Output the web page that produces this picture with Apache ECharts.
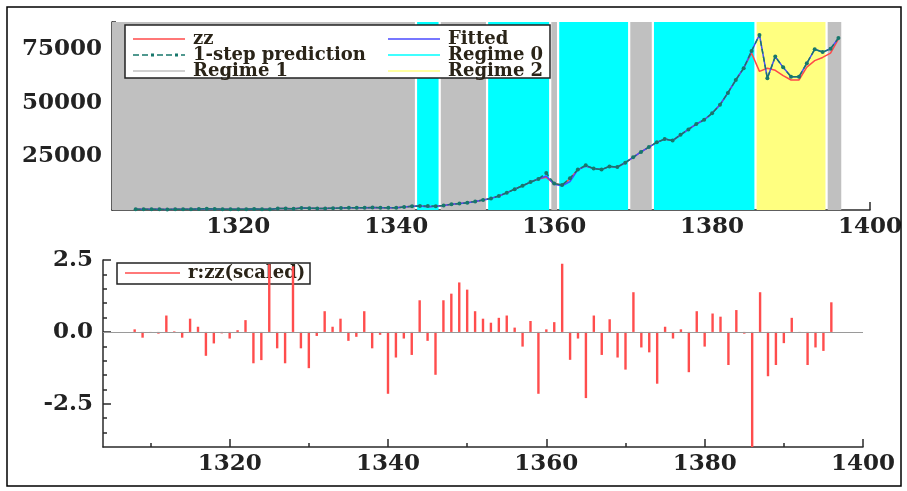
<!DOCTYPE html>
<html><head><meta charset="utf-8">
<script src="https://cdn.jsdelivr.net/npm/echarts@6/dist/echarts.min.js"></script>
<style>html,body{margin:0;padding:0;background:#fff}#c{width:907px;height:491px}</style>
</head><body><div id="c"></div>
<script>
// ---- data ----
const years = [1307,1308,1309,1310,1311,1312,1313,1314,1315,1316,1317,1318,1319,1320,1321,1322,1323,1324,1325,1326,
1327,1328,1329,1330,1331,1332,1333,1334,1335,1336,1337,1338,1339,1340,1341,1342,1343,1344,1345,1346,
1347,1348,1349,1350,1351,1352,1353,1354,1355,1356,1357,1358,1359,1360,1361,1362,1363,1364,1365,1366,
1367,1368,1369,1370,1371,1372,1373,1374,1375,1376,1377,1378,1379,1380,1381,1382,1383,1384,1385,1386,
1387,1388,1389,1390,1391,1392,1393,1394,1395,1396];
const zz = [300,350,300,300,280,400,400,350,500,600,
450,400,400,380,400,480,380,300,700,650,
550,900,850,750,750,850,900,1000,1000,1000,
1150,1100,1100,1000,1400,1700,1900,1500,1800,2100,
2700,3000,3400,4000,4700,5400,6500,8000,9700,11300,
13000,14400,15200,12300,11600,14500,18800,20500,19300,18800,
20300,20000,22000,24500,27000,29300,31500,33000,32300,35000,
37500,40000,42000,45000,49000,54500,60500,66000,73000,64500,
66000,65000,62500,60500,60500,66500,69500,71000,73000,79500];
const fitted = [300,350,300,300,280,400,400,350,500,600,
450,400,400,380,400,480,380,300,700,650,
550,900,850,750,750,850,900,1000,1000,1000,
1150,1100,1100,1000,1400,1700,1900,1500,1800,2100,
2700,3000,3400,4000,4700,5400,6500,8000,9700,11300,
13000,14400,15800,12000,11300,13200,18800,20500,19300,18800,
20300,20000,22000,24500,27000,29300,31500,33000,32300,35000,
37500,40000,42000,45000,49000,54500,60500,66000,74000,81500,
61300,71400,66400,62000,62000,68300,74800,73500,75000,80000];
const prediction = [300,350,300,300,280,400,400,350,500,600,
450,400,400,380,400,480,380,300,700,650,
550,900,850,750,750,850,900,1000,1000,1000,
1150,1100,1100,1000,1400,1700,1900,1900,1800,2100,
2700,3000,3400,4000,4700,5400,6500,8000,9700,11300,
13000,14400,17200,12300,11600,14800,18800,20800,19300,18800,
20300,20000,22000,24500,27000,29300,31500,33000,32300,35000,
37500,40000,42000,45000,49000,54500,60500,66000,74000,81500,
61300,71400,66400,62000,62000,68300,74800,73500,75000,80000];
const residYears = [1308,1309,1310,1311,1312,1313,1314,1315,1316,1317,
1318,1319,1320,1321,1322,1323,1324,1325,1326,1327,
1328,1329,1330,1331,1332,1333,1334,1335,1336,1337,
1338,1339,1340,1341,1342,1343,1344,1345,1346,1347,
1348,1349,1350,1351,1352,1353,1354,1355,1356,1357,
1358,1359,1360,1361,1362,1363,1364,1365,1366,1367,
1368,1369,1370,1371,1372,1373,1374,1375,1376,1377,
1378,1379,1380,1381,1382,1383,1384,1385,1386,1387,
1388,1389,1390,1391,1392,1393,1394,1395,1396];
const resid = [0.09,-0.2,-0.03,-0.06,0.57,0.02,-0.2,0.46,0.18,-0.83,
-0.4,-0.05,-0.23,0.06,0.41,-1.09,-0.98,2.35,-0.57,-1.09,
2.28,-0.57,-1.26,-0.14,0.72,0.18,0.46,-0.31,-0.17,0.72,
-0.57,-0.1,-2.15,-0.89,-0.23,-0.8,1.10,-0.31,-1.49,1.10,
1.33,1.72,1.47,0.72,0.46,0.32,0.49,0.57,0.15,-0.51,
0.38,-2.15,0.09,0.34,2.37,-0.97,-0.23,-2.3,0.57,-0.8,
0.44,-0.89,-1.31,1.38,-0.54,-0.71,-1.8,0.18,-0.23,0.09,
-1.4,0.72,-0.51,0.64,0.53,-1.15,0.76,-0.06,-4.0,1.38,
-1.54,-1.15,-0.39,0.49,-0.02,-1.15,-0.54,-0.66,1.03];
// regime blocks
const regimeStart = [1304,1342.5,1345.5,1351.5,1359.5,1360.5,1369.5,1372.5,1385.5,1394.5];
const regimeEnd   = [1342.5,1345.5,1351.5,1359.5,1360.5,1369.5,1372.5,1385.5,1394.5,1396.5];
const regimeId    = [1,0,1,0,1,0,1,0,2,1];
const regimeNames = ['Regime 0','Regime 1','Regime 2'];
const xLabels = [1320,1340,1360,1380,1400];
const xMinor = [1310,1330,1350,1370,1390];
const topYLabels = [25000,50000,75000];
const topYMinor = [12500,37500,62500,87500];
const botYLabels = [-2.5,0,2.5];
const botYMinor = [-3.5,-3,-2,-1.5,-1,-0.5,0.5,1,1.5,2];

// ---- styles ----
const regimeColors = ['#00ffff','#c0c0c0','#ffff80'];
const font = 'DejaVu Serif';
const axisCol = '#2a2a2a';
const lblStyle = {fontFamily: font, fontSize: 23, fontWeight: 'bold', color: '#222'};
const pair = (xs, ys) => xs.map((x, i) => [x, ys[i]]);
const gap = 0.14;
const solidIcon = 'path://M0,0.7h52v1.6h-52z';
const dashIcon = 'path://M0,0.7h6v1.6h-6z M9,0.7h6v1.6h-6z M18,0h3v3h-3z M24,0.7h6v1.6h-6z M33,0.7h6v1.6h-6z M42,0h3v3h-3z M48,0.7h4v1.6h-4z';

function regimeAreas(id) {
  const out = [];
  regimeStart.forEach((s, i) => {
    if (regimeId[i] !== id) return;
    const a = i === 0 ? s : s + gap;
    const b = regimeEnd[i] - gap;
    out.push([{xAxis: a}, {xAxis: b}]);
  });
  return out;
}

function xAxes(grid) {
  return [
    {type: 'value', gridIndex: grid, min: 1304, max: 1400, position: 'bottom',
     axisLine: {onZero: false, lineStyle: {color: axisCol, width: 1.5}},
     axisTick: {inside: true, length: 8, customValues: xLabels, lineStyle: {color: axisCol, width: 1.5}},
     axisLabel: {customValues: xLabels, margin: 6, formatter: v => String(v), ...lblStyle},
     splitLine: {show: false}},
    {type: 'value', gridIndex: grid, min: 1304, max: 1400, position: 'bottom',
     axisLine: {show: false, onZero: false},
     axisTick: {inside: true, length: 4, customValues: xMinor, lineStyle: {color: axisCol, width: 1.5}},
     axisLabel: {show: false}, splitLine: {show: false}}
  ];
}

const chart = echarts.init(document.getElementById('c'));
const series = [];
regimeNames.forEach((nm, id) => {
  series.push({name: nm, type: 'line', xAxisIndex: 0, yAxisIndex: 0, data: [], symbol: 'none',
    color: regimeColors[id], lineStyle: {width: 2, color: regimeColors[id]}, z: 1,
    markArea: {silent: true, itemStyle: {color: regimeColors[id], opacity: 1}, data: regimeAreas(id)}});
});
series.push({name: 'zz', type: 'line', xAxisIndex: 0, yAxisIndex: 0, data: pair(years, zz), symbol: 'none',
  color: '#ff4a4a', lineStyle: {width: 1.5, color: '#ff4a4a'}, z: 3});
series.push({name: 'Fitted', type: 'line', xAxisIndex: 0, yAxisIndex: 0, data: pair(years, fitted), symbol: 'none',
  color: '#4a4aff', lineStyle: {width: 1.5, color: '#4a4aff'}, z: 4});
series.push({name: '1-step prediction', type: 'line', xAxisIndex: 0, yAxisIndex: 0, data: pair(years, prediction),
  symbol: 'circle', symbolSize: 4, showSymbol: true,
  color: '#17776b', itemStyle: {color: '#17776b'}, lineStyle: {width: 1.5, color: '#17776b', type: [5, 3]}, z: 5});
series.push({name: 'r:zz(scaled)', type: 'bar', xAxisIndex: 2, yAxisIndex: 2, data: pair(residYears, resid),
  barWidth: 2.4, color: '#ff4d4d', itemStyle: {color: '#ff4d4d'}, z: 3,
  markLine: {silent: true, symbol: 'none', label: {show: false}, lineStyle: {color: '#9a9a9a', width: 1.2, type: 'solid'},
    data: [{yAxis: 0}]}});

const legendText = {fontFamily: font, fontSize: 18, fontWeight: 'bold', color: '#2a2418', padding: [0, 0, 0, 3]};
const legItem = (name, icon) => ({name: name, icon: icon});
chart.setOption({
  animation: false,
  backgroundColor: '#fff',
  grid: [
    {left: 112, right: 37, top: 22, bottom: 281},
    {left: 103, right: 44, top: 260, bottom: 44}
  ],
  xAxis: [...xAxes(0), ...xAxes(1)],
  yAxis: [
    {type: 'value', gridIndex: 0, min: 0, max: 87500, position: 'left',
     axisLine: {show: true, lineStyle: {color: axisCol, width: 1.5}},
     axisTick: {show: true, inside: true, length: 8, customValues: topYLabels, lineStyle: {color: axisCol, width: 1.5}},
     axisLabel: {customValues: topYLabels, margin: 10, formatter: v => String(v), ...lblStyle}, splitLine: {show: false}},
    {type: 'value', gridIndex: 0, min: 0, max: 87500, position: 'left',
     axisLine: {show: false}, axisTick: {show: true, inside: true, length: 4, customValues: topYMinor, lineStyle: {color: axisCol, width: 1.5}},
     axisLabel: {show: false}, splitLine: {show: false}},
    {type: 'value', gridIndex: 1, min: -4, max: 2.5, position: 'left',
     axisLine: {show: true, lineStyle: {color: axisCol, width: 1.5}},
     axisTick: {show: true, inside: true, length: 8, customValues: botYLabels, lineStyle: {color: axisCol, width: 1.5}},
     axisLabel: {customValues: botYLabels, margin: 10, formatter: v => v.toFixed(1), ...lblStyle}, splitLine: {show: false}},
    {type: 'value', gridIndex: 1, min: -4, max: 2.5, position: 'left',
     axisLine: {show: false}, axisTick: {show: true, inside: true, length: 4, customValues: botYMinor, lineStyle: {color: axisCol, width: 1.5}},
     axisLabel: {show: false}, splitLine: {show: false}}
  ],
  legend: [
    {data: [legItem('zz', solidIcon), legItem('1-step prediction', dashIcon), legItem('Regime 1', solidIcon)],
     orient: 'vertical', left: 133, top: 30, padding: 0,
     itemWidth: 52, itemHeight: 3, itemGap: -2, textStyle: legendText, z: 20, selectedMode: false},
    {data: [legItem('Fitted', solidIcon), legItem('Regime 0', solidIcon), legItem('Regime 2', solidIcon)],
     orient: 'vertical', left: 388, top: 30, padding: 0,
     itemWidth: 52, itemHeight: 3, itemGap: -2, textStyle: legendText, z: 20, selectedMode: false},
    {data: [legItem('r:zz(scaled)', solidIcon)], orient: 'vertical', left: 125, top: 264, padding: 0,
     itemWidth: 55, itemHeight: 3, textStyle: legendText, z: 1, selectedMode: false}
  ],
  graphic: [
    {type: 'rect', shape: {x: 125, y: 25, width: 425, height: 53}, style: {fill: '#fff', stroke: '#222', lineWidth: 1.5}, z: 10},
    {type: 'rect', shape: {x: 117, y: 263, width: 193, height: 21}, style: {fill: '#fff', stroke: '#222', lineWidth: 1.5}, z: 0},
    {type: 'rect', shape: {x: 7, y: 7, width: 894, height: 479}, style: {fill: 'none', stroke: '#000', lineWidth: 1.5}, z: 30}
  ],
  series: series
});
</script></body></html>
